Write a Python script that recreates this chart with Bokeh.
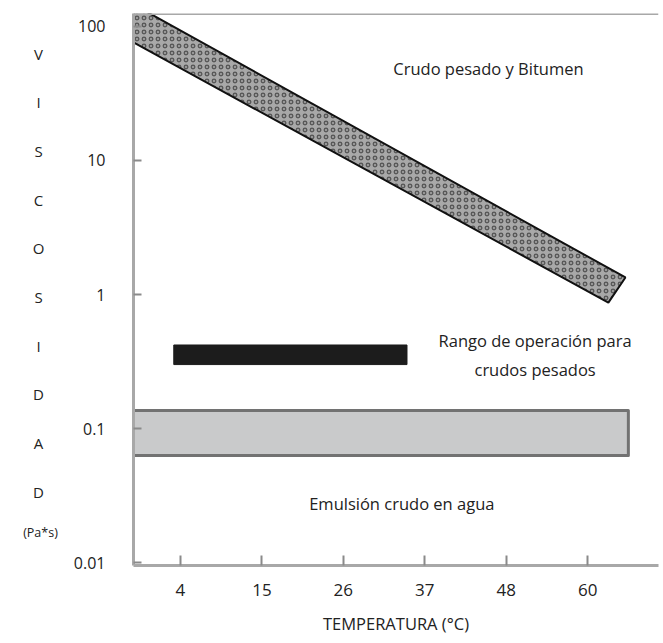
from bokeh.plotting import figure
from bokeh.layouts import row
from bokeh.models import FixedTicker, Label, Span
from bokeh.core.properties import value
from bokeh.embed import file_html
from bokeh.resources import INLINE

# ---- data ----
temp_tick_labels = ["4", "15", "26", "37", "48", "60"]   # evenly spaced category-like axis
visc_ticks = [0.01, 0.1, 1, 10, 100]
visc_tick_labels = ["0.01", "0.1", "1", "10", "100"]

# heavy crude & bitumen band (parallelogram: upper-left, upper-right, lower-right, lower-left)
band_temp = [-3.0, 64.1, 61.8, -3.0]
band_visc = [153.0, 1.34, 0.87, 79.6]

# operating range for heavy crudes
op_temp = [3.1, 34.6]
op_visc = [0.30, 0.42]

# crude-in-water emulsion
emu_temp = [-2.34, 64.5]
emu_visc = [0.063, 0.136]

y_title_letters = ["V", "I", "S", "C", "O", "S", "I", "D", "A", "D"]
y_title_unit = "(Pa*s)"

FONT = "Open Sans"
TXT = "#222222"
H = 643
LEFT_W = 70
FRAME_TOP, FRAME_BOTTOM = 13, 565

tick_pos = [4 + 11 * i for i in range(len(temp_tick_labels))]
Y0, Y1 = 0.0095, 125.0

# ---- left strip carrying the stacked y-axis title (frame aligned with main frame) ----
pl = figure(width=LEFT_W, height=H, x_range=(0, LEFT_W), y_range=(FRAME_BOTTOM, FRAME_TOP),
            output_backend="svg", toolbar_location=None,
            min_border_left=0, min_border_right=0, min_border_top=FRAME_TOP,
            min_border_bottom=H - FRAME_BOTTOM)
pl.axis.visible = False
pl.grid.visible = False
pl.outline_line_color = None
pl.background_fill_color = "white"
pl.border_fill_color = "white"
title_y = [53 + 48.7 * i for i in range(len(y_title_letters))]
pl.text(x=[38] * len(y_title_letters), y=title_y, text=y_title_letters,
        text_font=value(FONT), text_font_size="15px", text_color=TXT,
        text_align="center", text_baseline="middle")
pl.text(x=[40], y=[532], text=[y_title_unit],
        text_font=value(FONT), text_font_size="12.5px", text_color=TXT,
        text_align="center", text_baseline="middle")

# ---- main chart ----
p = figure(width=663 - LEFT_W, height=H, x_range=(-2.34, 68.57), y_range=(Y0, Y1),
           y_axis_type="log", output_backend="svg", toolbar_location=None,
           min_border_left=132 - LEFT_W, min_border_right=5, min_border_top=FRAME_TOP,
           min_border_bottom=H - FRAME_BOTTOM)
p.outline_line_color = None
p.xgrid.visible = False
p.ygrid.visible = False
p.background_fill_color = "white"
p.border_fill_color = "white"

# emulsion box
p.quad(left=emu_temp[0], right=emu_temp[1], bottom=emu_visc[0], top=emu_visc[1],
       fill_color="#c9cacb", line_color="#727272", line_width=3, line_join="round")

# operating range bar
p.quad(left=op_temp[0], right=op_temp[1], bottom=op_visc[0], top=op_visc[1],
       fill_color="#1c1c1c", line_color="#1c1c1c", line_width=1)

# heavy crude band
p.patch(band_temp, band_visc, fill_color="#a8a8a8", line_color="#111111", line_width=2,
        hatch_pattern="ring", hatch_color="#4a4a4a", hatch_scale=7, hatch_weight=1.4,
        hatch_alpha=0.85)

# top border line
p.add_layout(Span(location=Y1, dimension="width", line_color="#a8a8a8", line_width=3))

# axes
p.xaxis.ticker = FixedTicker(ticks=tick_pos)
p.xaxis.major_label_overrides = {t: l for t, l in zip(tick_pos, temp_tick_labels)}
p.yaxis.ticker = FixedTicker(ticks=visc_ticks)
p.yaxis.major_label_overrides = {t: l for t, l in zip(visc_ticks, visc_tick_labels)}

for ax in (p.xaxis[0], p.yaxis[0]):
    ax.axis_line_color = "#a8a8a8"
    ax.axis_line_width = 3
    ax.major_tick_line_color = "#8a8a8a"
    ax.major_tick_line_width = 2
    ax.major_tick_out = 0
    ax.minor_tick_line_color = None
    ax.major_label_text_font = FONT
    ax.major_label_text_color = TXT

p.xaxis.major_tick_in = 10
p.xaxis.major_label_standoff = 18
p.xaxis.major_label_text_font_size = "17px"
p.xaxis.axis_label = "TEMPERATURA (°C)"
p.xaxis.axis_label_text_font = FONT
p.xaxis.axis_label_text_font_size = "16.5px"
p.xaxis.axis_label_text_font_style = "normal"
p.xaxis.axis_label_text_color = TXT
p.xaxis.axis_label_standoff = 13

p.yaxis.major_tick_in = 8
p.yaxis.major_label_standoff = 28
p.yaxis.major_label_text_font_size = "16px"

# in-plot annotations
def note(x, y, s):
    p.add_layout(Label(x=x, y=y, text=s, text_font=FONT, text_font_size="16.5px",
                       text_color=TXT, text_align="center", text_baseline="middle"))

note(45.6, 48.6, "Crudo pesado y Bitumen")
note(51.9, 0.4535, "Rango de operación para")
note(51.9, 0.2755, "crudos pesados")
note(33.9, 0.02755, "Emulsión crudo en agua")

layout = row(pl, p, spacing=0)
open("out.html", "w").write(file_html(layout, INLINE))
